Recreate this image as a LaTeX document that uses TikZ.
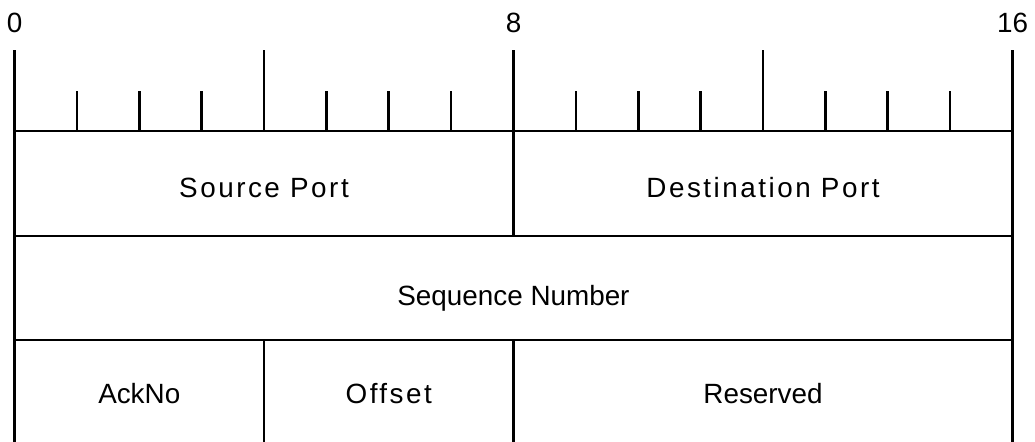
\documentclass[tikz,border=0pt]{standalone}
\usepackage{fontspec}
\setmainfont{Liberation Sans}
\newfontfamily\spacedfont[LetterSpace=9]{Liberation Sans}
\usepackage{tikz}

\tikzset{
    field/.style={anchor=base, font=\fontsize{12.7}{15}\selectfont},
    spaced field/.style={anchor=base, font=\fontsize{12.7}{15}\spacedfont},
    bitnum/.style={anchor=base, font=\fontsize{12.7}{15}\selectfont},
}

\begin{document}
\begin{tikzpicture}[line width=1.2pt]

        \useasboundingbox (-0.2325, -4.986) rectangle (16.3607, 2.100);

        % ruler
        \foreach \b in {0, 4, 8, 12, 16} {
            \draw (\b, 0) -- (\b, 1.3); % major tick
        }
        \foreach \b in {1, 2, 3, 5, 6, 7, 9, 10, 11, 13, 14, 15} {
            \draw (\b, 0) -- (\b, 0.64); % minor tick
        }
        \node[bitnum] (n0) at (0, 1.571) {0};
        \node[bitnum] (n8) at (8, 1.571) {8};
        \node[bitnum] (n16) at (16, 1.571) {16};

        % header frame
        \draw (0, 0) -- (16, 0);
        \draw (0, 0) -- (0, -4.986); % left side
        \draw (16, 0) -- (16, -4.986); % right side
        \draw (0, -1.683) -- (16, -1.683);
        \draw (0, -3.351) -- (16, -3.351);
        \draw (8, 0) -- (8, -1.683);
        \draw (4, -3.351) -- (4, -4.986);
        \draw (8, -3.351) -- (8, -4.986);

        % field names
        \node[spaced field] (src) at (4, -1.074) {Source Port};
        \node[spaced field] (dst) at (12, -1.074) {Destination Port};
        \node[field] (seq) at (8, -2.79) {Sequence Number};
        \node[field] (ack) at (2, -4.377) {AckNo};
        \node[spaced field] (off) at (6, -4.377) {Offset};
        \node[field] (res) at (12, -4.377) {Reserved};

\end{tikzpicture}
\end{document}
